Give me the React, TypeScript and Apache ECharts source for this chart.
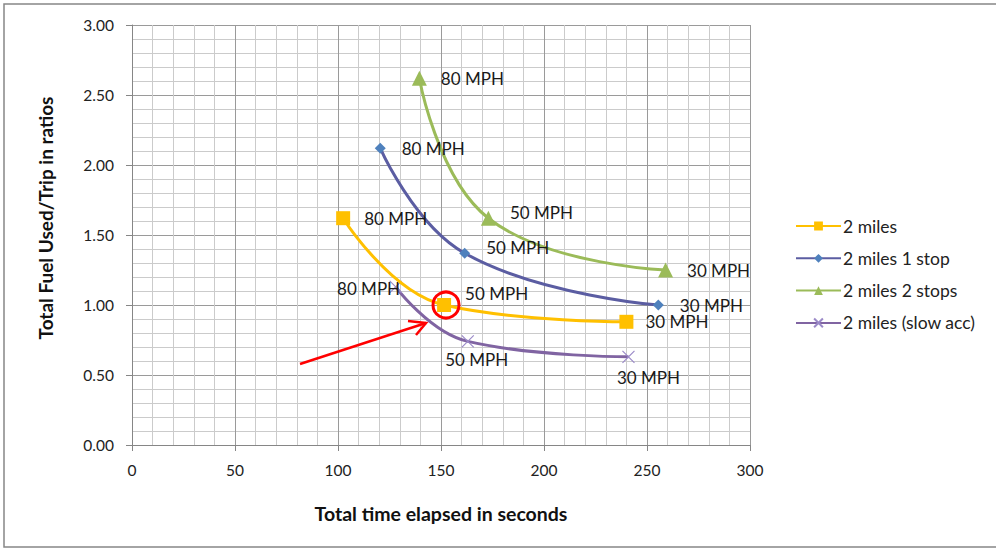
import React, { useEffect, useRef } from "react";
import * as echarts from "echarts";

const speedLabels = ["80 MPH", "50 MPH", "30 MPH"];
const seriesNames = ["2 miles", "2 miles 1 stop", "2 miles 2 stops", "2 miles (slow acc)"];

const xMiles = [102.5, 151.5, 240];
const yMiles = [1.62, 1.0, 0.88];
const x1Stop = [120.5, 161.5, 255.5];
const y1Stop = [2.12, 1.37, 1.0];
const x2Stop = [139.5, 173, 259];
const y2Stop = [2.62, 1.62, 1.25];
const xSlow = [128, 163, 241];
const ySlow = [1.13, 0.74, 0.63];

const FONT = "Lato";

function pts(xs: number[], ys: number[], labelCfg: any[]) {
  return xs.map((x, i) => ({
    value: [x, ys[i]],
    name: speedLabels[i],
    label: { show: true, formatter: speedLabels[i], ...labelCfg[i] },
  }));
}

export default function App() {
  const ref = useRef<HTMLDivElement>(null);
  useEffect(() => {
    const chart = echarts.init(ref.current!, null, { renderer: "svg" });
    const lbl = { fontFamily: FONT, fontSize: 17, color: "#1a1a1a" };
    const option: any = {
      animation: false,
      backgroundColor: "#ffffff",
      textStyle: { fontFamily: FONT },
      grid: { left: 132, right: 246, top: 25, bottom: 103 },
      xAxis: {
        type: "value",
        min: 0,
        max: 300,
        interval: 50,
        name: "Total time elapsed in seconds",
        nameLocation: "middle",
        nameGap: 58,
        nameTextStyle: { fontFamily: FONT, fontWeight: "bold", fontSize: 19.5, color: "#111" },
        axisLine: { show: true, lineStyle: { color: "#868686", width: 1 } },
        axisTick: { show: true, length: 6, lineStyle: { color: "#868686" } },
        axisLabel: { fontFamily: FONT, fontSize: 15.5, color: "#222", margin: 17 },
        splitLine: { show: true, lineStyle: { color: "#9a9a9a", width: 1 } },
        minorTick: { show: false, splitNumber: 5 },
        minorSplitLine: { show: true, lineStyle: { color: "#cbcbcb", width: 1 } },
      },
      yAxis: {
        type: "value",
        min: 0,
        max: 3,
        interval: 0.5,
        name: "Total Fuel Used/Trip in ratios",
        nameLocation: "middle",
        nameGap: 77,
        nameRotate: 90,
        nameTextStyle: {
          fontFamily: FONT,
          fontWeight: "bold",
          fontSize: 19,
          color: "#111",
          padding: [0, 0, 0, 34],
        },
        axisLine: { show: true, lineStyle: { color: "#868686", width: 1 } },
        axisTick: { show: true, length: 6, lineStyle: { color: "#868686" } },
        axisLabel: {
          fontFamily: FONT,
          fontSize: 15.5,
          color: "#222",
          margin: 18,
          formatter: (v: number) => v.toFixed(2),
        },
        splitLine: { show: true, lineStyle: { color: "#9a9a9a", width: 1 } },
        minorTick: { show: false, splitNumber: 5 },
        minorSplitLine: { show: true, lineStyle: { color: "#cbcbcb", width: 1 } },
      },
      legend: {
        orient: "vertical",
        left: 790,
        top: 211,
        itemWidth: 45,
        itemHeight: 11,
        itemGap: 12.3,
        textStyle: {
          fontFamily: FONT,
          fontSize: 17.5,
          lineHeight: 20,
          color: "#222",
          padding: [0, 0, 0, -3],
        },
        data: seriesNames,
      },
      series: [
        {
          name: seriesNames[0],
          type: "line",
          smooth: 0.45,
          symbol: "rect",
          symbolSize: 14,
          lineStyle: { color: "#FFC000", width: 3 },
          itemStyle: { color: "#FFC000" },
          label: { ...lbl },
          data: pts(xMiles, yMiles, [
            { position: "right", distance: 14 },
            { position: "right", distance: 14, offset: [0, -12] },
            { position: "right", distance: 12 },
          ]),
          z: 5,
        },
        {
          name: seriesNames[1],
          type: "line",
          smooth: 0.45,
          symbol: "diamond",
          symbolSize: 11,
          lineStyle: { color: "#5B5DA2", width: 3 },
          itemStyle: { color: "#4F81BD" },
          label: { ...lbl },
          data: pts(x1Stop, y1Stop, [
            { position: "right", distance: 16 },
            { position: "right", distance: 16, offset: [0, -6] },
            { position: "right", distance: 16 },
          ]),
          z: 4,
        },
        {
          name: seriesNames[2],
          type: "line",
          smooth: 0.45,
          symbol: "triangle",
          symbolSize: 15,
          lineStyle: { color: "#9BBB59", width: 3 },
          itemStyle: { color: "#9BBB59" },
          label: { ...lbl },
          data: pts(x2Stop, y2Stop, [
            { position: "right", distance: 14 },
            { position: "right", distance: 14, offset: [0, -6] },
            { position: "right", distance: 14 },
          ]),
          z: 3,
        },
        {
          name: seriesNames[3],
          type: "line",
          smooth: 0.45,
          symbol: "path://M0,0L10,10M10,0L0,10",
          symbolSize: 12,
          lineStyle: { color: "#8064A2", width: 3 },
          itemStyle: { color: "rgba(0,0,0,0)", borderColor: "#9B8AC8", borderWidth: 1.2 },
          label: { ...lbl },
          data: pts(xSlow, ySlow, [
            { position: "left", distance: -11, offset: [0, 2] },
            { position: "bottom", distance: 3, offset: [9, 0] },
            { position: "bottom", distance: 6, offset: [20, 0] },
          ]),
          z: 2,
        },
      ],
      graphic: [
        {
          type: "rect",
          shape: { x: 4, y: 4, width: 1000, height: 543 },
          style: { fill: "none", stroke: "#878787", lineWidth: 1.5 },
          silent: true,
          z: 100,
        },
        {
          type: "circle",
          shape: { cx: 446, cy: 305, r: 13 },
          style: { fill: "none", stroke: "#FF0000", lineWidth: 3 },
          z: 100,
        },
        {
          type: "line",
          shape: { x1: 300, y1: 364, x2: 426, y2: 323 },
          style: { stroke: "#FF0000", lineWidth: 2.5 },
          z: 100,
        },
        {
          type: "polyline",
          shape: { points: [[408, 321], [426, 323], [416, 335]] },
          style: { stroke: "#FF0000", lineWidth: 2.5, fill: "none" },
          z: 100,
        },
      ],
    };
    chart.setOption(option);
    return () => chart.dispose();
  }, []);
  return (
    <div
      ref={ref}
      style={{ position: "fixed", left: 0, top: 0, width: 996, height: 548, background: "#fff" }}
    />
  );
}
